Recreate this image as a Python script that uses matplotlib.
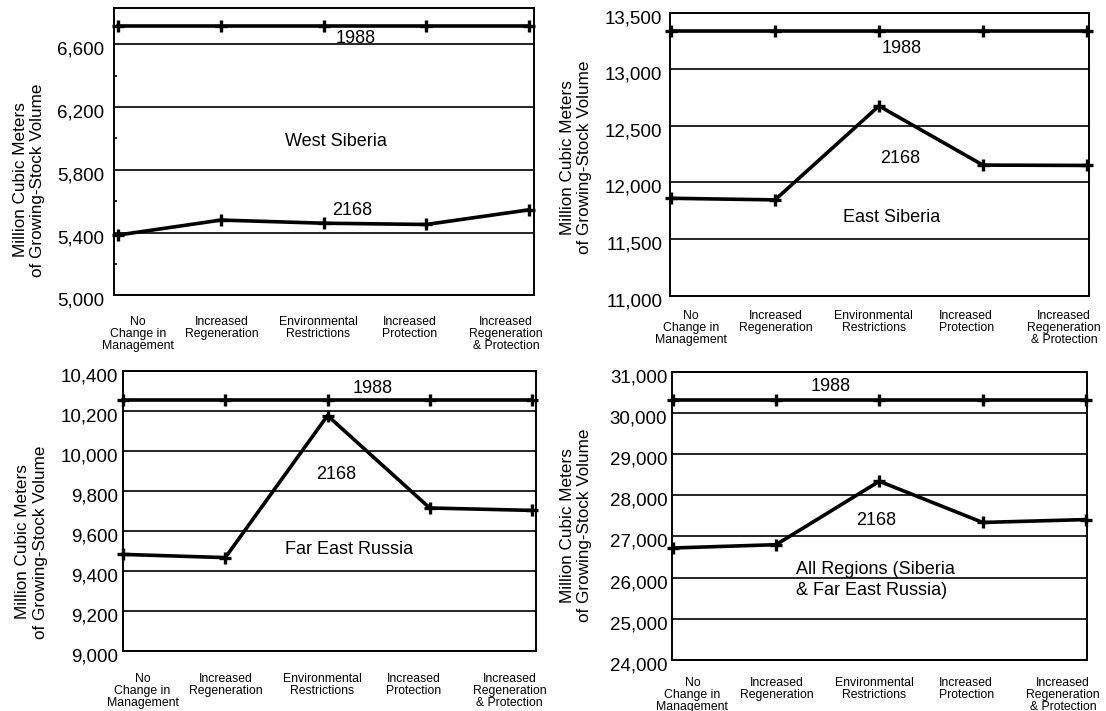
import matplotlib
matplotlib.use('Agg')
import matplotlib.pyplot as plt
from matplotlib.transforms import ScaledTranslation

plt.rcParams['font.family'] = ['Liberation Sans', 'DejaVu Sans']

# Scenario names along the x axis
scenarios = ['No\nChange in\nManagement', 'Increased\nRegeneration',
             'Environmental\nRestrictions', 'Increased\nProtection',
             'Increased\nRegeneration\n& Protection']

# Growing-stock volume, million cubic meters
west_1988 = [6715, 6715, 6715, 6715, 6715]
west_2168 = [5385, 5480, 5460, 5452, 5545]
east_1988 = [13340, 13340, 13340, 13340, 13340]
east_2168 = [11860, 11846, 12675, 12153, 12150]
fareast_1988 = [10255, 10255, 10255, 10255, 10255]
fareast_2168 = [9483, 9467, 10177, 9715, 9703]
all_1988 = [30310, 30310, 30310, 30310, 30310]
all_2168 = [26720, 26800, 28340, 27340, 27410]

# y tick values of each panel
west_ticks = [5000, 5400, 5800, 6200, 6600]
east_ticks = [11000, 11500, 12000, 12500, 13000, 13500]
fareast_ticks = [9000, 9200, 9400, 9600, 9800, 10000, 10200, 10400]
all_ticks = [24000, 25000, 26000, 27000, 28000, 29000, 30000, 31000]

region_names = ['West Siberia', 'East Siberia', 'Far East Russia',
                'All Regions (Siberia\n& Far East Russia)']

# layout of the four panels
panels = [
    dict(rect=[0.1031, 0.5844, 0.3797, 0.4044], y88=west_1988, y68=west_2168,
         ticks=west_ticks, minor=[5200, 5600, 6000, 6400], ylim=(5000, 6830),
         xlim=(-0.042, 4.05), t88=(2.31, 6638), t68=(2.28, 5538),
         tname=(2.12, 5977), ha='center', ylab=(-0.202, 0.402), xpad=14.5, ypad=7),
    dict(rect=[0.6058, 0.5841, 0.3788, 0.3983], y88=east_1988, y68=east_2168,
         ticks=east_ticks, minor=None, ylim=(11000, 13500),
         xlim=(-0.01, 4.02), t88=(2.22, 13184), t68=(2.2, 12211),
         tname=(2.12, 11693), ha='center', ylab=(-0.224, 0.488), xpad=10.3, ypad=5.5),
    dict(rect=[0.1108, 0.0844, 0.3739, 0.3938], y88=fareast_1988, y68=fareast_2168,
         ticks=fareast_ticks, minor=None, ylim=(9000, 10400),
         xlim=(-0.005, 4.04), t88=(2.44, 10313), t68=(2.08, 9881),
         tname=(2.21, 9507), ha='center', ylab=(-0.22, 0.39), xpad=15.8, ypad=3.3),
    dict(rect=[0.6076, 0.0717, 0.3752, 0.4055], y88=all_1988, y68=all_2168,
         ticks=all_ticks, minor=None, ylim=(24000, 31000),
         xlim=(-0.007, 4.01), t88=(1.53, 30642), t68=(1.97, 27389),
         tname=(1.19, 25946), ha='left', ylab=(-0.231, 0.467), xpad=12, ypad=3.4),
]

label_pos = [0.19, 1.01, 1.95, 2.84, 3.78]
xs = list(range(len(scenarios)))

fig = plt.figure(figsize=(11.06, 7.11), dpi=100)

for p, name in zip(panels, region_names):
    ax = fig.add_axes(p['rect'])
    for y in (p['y88'], p['y68']):
        ax.plot(xs, y, color='black', lw=2.6, marker='+', ms=9, mew=2.4,
                clip_on=False, zorder=3)

    ax.set_xlim(*p['xlim'])
    ax.set_ylim(*p['ylim'])
    ax.set_yticks(p['ticks'])
    ax.set_yticklabels([f'{v:,}' for v in p['ticks']], fontsize=13.5)
    ax.set_xticks(label_pos)
    ax.set_xticklabels(scenarios, fontsize=8.8, linespacing=1.0)
    ax.yaxis.grid(True, color='black', lw=1.2)
    ax.tick_params(axis='both', which='major', length=0)
    ax.tick_params(axis='x', pad=p['xpad'])
    ax.tick_params(axis='y', pad=p['ypad'])
    if p['minor']:
        ax.set_yticks(p['minor'], minor=True)
        ax.tick_params(axis='y', which='minor', direction='in', length=2.5, width=1.2)
    for s in ax.spines.values():
        s.set_linewidth(1.4)

    # nudge the y labels a little below their grid lines, like the original
    shift = ScaledTranslation(0, -4 / 100, fig.dpi_scale_trans)
    for lab in ax.get_yticklabels():
        lab.set_transform(lab.get_transform() + shift)

    ax.text(*p['t88'], '1988', fontsize=13, ha='center', va='center')
    ax.text(*p['t68'], '2168', fontsize=13, ha='center', va='center')
    ax.text(*p['tname'], name, fontsize=13, ha=p['ha'], va='center', linespacing=1.35)

    ax.text(p['ylab'][0], p['ylab'][1],
            'Million Cubic Meters\nof Growing-Stock Volume',
            transform=ax.transAxes, rotation=90, fontsize=12.3,
            ha='center', va='center', multialignment='center')

plt.savefig('out.png', dpi=100)
